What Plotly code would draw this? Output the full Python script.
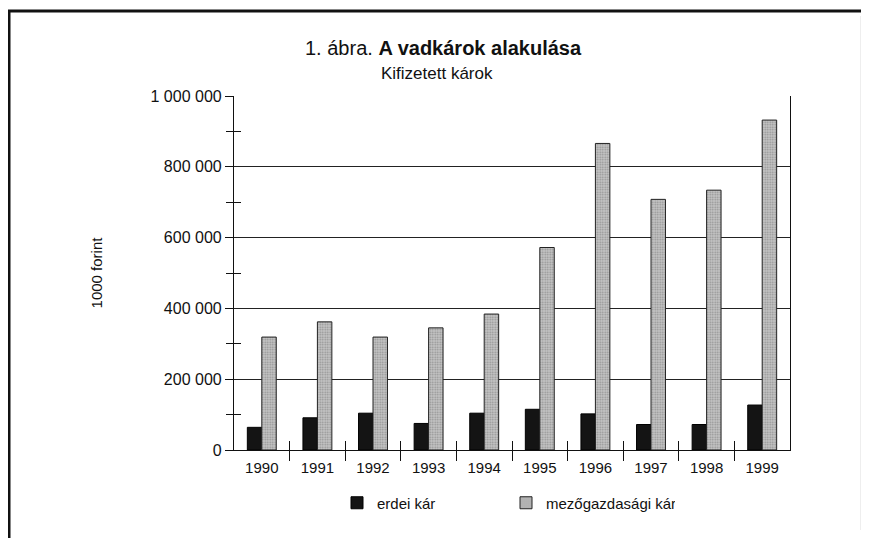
import plotly.graph_objects as go

years = [1990, 1991, 1992, 1993, 1994, 1995, 1996, 1997, 1998, 1999]
year_labels = [str(y) for y in years]
erdei_kar = [64000, 91000, 104000, 75000, 104000, 115000, 102000, 72000, 72000, 127000]
mezogazdasagi_kar = [319000, 362000, 319000, 345000, 384000, 572000, 866000, 708000, 734000, 932000]
y_major = [0, 200000, 400000, 600000, 800000, 1000000]
y_major_text = ["0", "200 000", "400 000", "600 000", "800 000", "1 000 000"]
y_minor = [100000, 300000, 500000, 700000, 900000]
x_between = [1990.5, 1991.5, 1992.5, 1993.5, 1994.5, 1995.5, 1996.5, 1997.5, 1998.5]

OFF = 8  # page body margin
W, H = 869 - OFF, 538 - OFF
L, R, T, B = 234, 790, 96, 450  # target page pixel positions of plot area
FONT = "Liberation Sans, Arial, sans-serif"

def px_x(p):
    return (p - L) / (R - L)

def px_y(p):
    return (B - p) / (B - T)

fig = go.Figure()
fig.add_trace(go.Bar(
    x=years, y=erdei_kar, name="erdei kár",
    marker=dict(color="#141414", line=dict(color="#000", width=1)),
))
fig.add_trace(go.Bar(
    x=years, y=mezogazdasagi_kar, name="mezőgazdasági kár",
    marker=dict(color="#bdbdbd", line=dict(color="#222", width=1),
                pattern=dict(shape=".", fgcolor="#5a5a5a", bgcolor="#c6c6c6", size=2.5, solidity=0.4)),
))
fig.add_trace(go.Scatter(x=[], y=[], xaxis="x2", yaxis="y2", showlegend=False))

fig.update_layout(
    width=W, height=H,
    margin=dict(l=L - OFF, r=W - (R - OFF), t=T - OFF, b=H - (B - OFF)),
    paper_bgcolor="white", plot_bgcolor="white",
    font=dict(family=FONT, size=15, color="#111"),
    barmode="group", bargap=0.48, bargroupgap=0,
    showlegend=True,
    legend=dict(orientation="h", x=px_x(337), y=px_y(503), xanchor="left", yanchor="middle",
                entrywidth=124, entrywidthmode="pixels", font=dict(size=15),
                itemwidth=30, bgcolor="rgba(0,0,0,0)"),
    xaxis=dict(range=[1989.5, 1999.5], tickvals=years, ticktext=year_labels,
               ticks="outside", ticklen=4, tickcolor="rgba(0,0,0,0)",
               showgrid=False, showline=True, linecolor="#111", linewidth=1.2,
               mirror=False, zeroline=False,
               minor=dict(tickvals=x_between, ticks="inside", ticklen=9, tickcolor="#111", showgrid=False),
               tickfont=dict(size=15)),
    xaxis2=dict(range=[1989.5, 1999.5], overlaying="x", side="bottom", anchor="y",
                tickvals=x_between, ticks="outside", ticklen=10, tickcolor="#111",
                showticklabels=False, showgrid=False, showline=False, zeroline=False),
    yaxis=dict(range=[0, 1000000], tickvals=y_major, ticktext=y_major_text,
               ticks="outside", ticklen=8, tickcolor="#111",
               showgrid=True, gridcolor="#222", gridwidth=1,
               showline=True, linecolor="#111", linewidth=1.2, mirror=True,
               zeroline=False,
               minor=dict(tickvals=y_minor, ticks="inside", ticklen=7, tickcolor="#111", showgrid=False),
               title=dict(text="1000 forint", font=dict(size=15), standoff=44),
               tickfont=dict(size=16)),
    yaxis2=dict(range=[0, 1000000], overlaying="y", side="left", anchor="x",
                tickvals=y_minor, ticks="outside", ticklen=7, tickcolor="#111",
                showticklabels=False, showgrid=False, showline=False, zeroline=False),
)

fig.add_annotation(xref="paper", yref="paper", x=px_x(443), y=px_y(48),
                   text="1. ábra. <b>A vadkárok alakulása</b>", showarrow=False,
                   font=dict(size=20, family=FONT, color="#111"), xanchor="center", yanchor="middle")
fig.add_annotation(xref="paper", yref="paper", x=px_x(437), y=px_y(73),
                   text="Kifizetett károk", showarrow=False,
                   font=dict(size=17, family=FONT, color="#111"), xanchor="center", yanchor="middle")

# scanned page frame
fig.add_shape(type="line", xref="paper", yref="paper", x0=px_x(7), x1=px_x(869), y0=px_y(11), y1=px_y(11),
              line=dict(color="#111", width=3))
fig.add_shape(type="line", xref="paper", yref="paper", x0=px_x(9), x1=px_x(9), y0=px_y(11), y1=px_y(538),
              line=dict(color="#111", width=3))
fig.add_shape(type="line", xref="paper", yref="paper", x0=px_x(861), x1=px_x(861), y0=px_y(16), y1=px_y(530),
              line=dict(color="#ddd", width=1))

fig.write_html("out.html")
